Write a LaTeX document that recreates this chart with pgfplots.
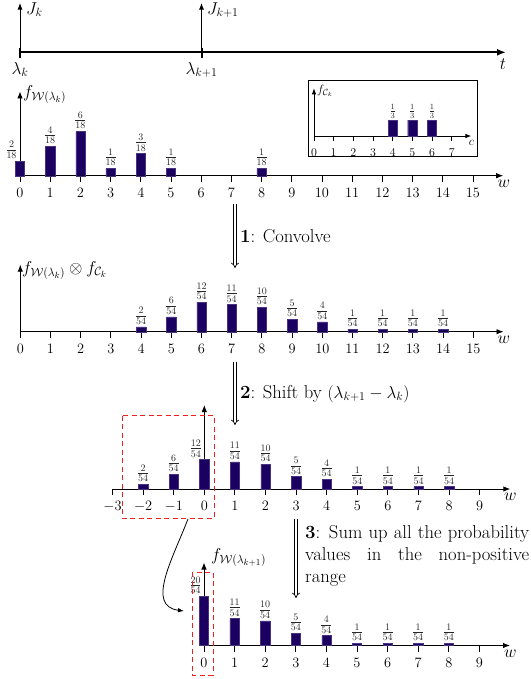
\documentclass[border=0pt]{standalone}
\usepackage{pgfplots}
\pgfplotsset{compat=1.18}
\usetikzlibrary{arrows.meta}

\definecolor{barcol}{RGB}{27,0,98}
\definecolor{boxred}{RGB}{238,32,32}

\newcommand\mainsize{\fontsize{18.7}{22.5}\selectfont}
\newcommand\ticksize{\fontsize{14.3}{16}\selectfont}
\newcommand\fracsize{\fontsize{14.5}{16}\selectfont}
\newcommand\insettick{\fontsize{11.5}{13}\selectfont}
\newcommand\insetfrac{\fontsize{12}{13}\selectfont}
\newcommand\insetlabel{\fontsize{13}{14}\selectfont}

\tikzset{
  yaxisline/.style={line width=0.9bp, -{Latex[length=7bp,width=5.5bp]}},
  stagearrow/.style={line width=0.7bp, double, double distance=2bp, -{Implies}},
}

\pgfplotsset{
  pmf/.style={
    anchor=origin,
    axis x line*=bottom,
    axis y line=none,
    x axis line style={line width=0.9bp, -{Latex[length=7bp,width=5.5bp]}},
    tick align=outside,
    major tick length=6bp,
    xtick style={line width=0.9bp, black},
    ymin=0, ytick=\empty,
    clip=false,
    xticklabel style={font=\ticksize, yshift=-3bp},
    every node near coord/.append style={font=\fracsize, anchor=south, inner sep=2.2bp, text=black!85},
  },
  bars/.style={ybar, bar width=9.3bp, bar shift=0pt,
    fill=barcol, draw=barcol!80!white, line width=0.4bp},
  leftlabel/.style={bars, every node near coord/.append style={xshift=-8.5bp}},
}

\begin{document}
\begin{tikzpicture}

% distribution of W at lambda_k (out of 18)
\begin{axis}[pmf, at={(20bp,-175.7bp)}, x=30.2bp, y=7.39bp,
  xmin=0, xmax=16, ymax=11.4, xtick={0,...,15},
  nodes near coords={$\frac{\pgfmathprintnumber{\pgfplotspointmeta}}{18}$}]
  \draw[yaxisline] (axis cs:0,0) -- (axis cs:0,11.4);
  \addplot[leftlabel] coordinates {(0,2)};
  \addplot[bars] coordinates {(1,4) (2,6) (3,1) (4,3) (5,1) (8,1)};
\end{axis}

% distribution of C_k (out of 3)
\begin{axis}[pmf, at={(314bp,-136bp)}, x=19.67bp, y=16bp,
  xmin=0, xmax=8, ymax=2.98, xtick={0,...,7},
  major tick length=5bp,
  xticklabel style={font=\insettick, yshift=-1bp},
  x axis line style={line width=0.8bp, -{Latex[length=6bp,width=4.5bp]}},
  every node near coord/.append style={font=\insetfrac, inner sep=1.5bp},
  nodes near coords={$\frac{\pgfmathprintnumber{\pgfplotspointmeta}}{3}$}]
  \draw[line width=0.8bp, -{Latex[length=6bp,width=4.5bp]}] (axis cs:0,0) -- (axis cs:0,2.98);
  \addplot[bars] coordinates {(4,1) (5,1) (6,1)};
\end{axis}

% convolution (out of 54)
\begin{axis}[pmf, at={(20.3bp,-331.7bp)}, x=30.2bp, y=2.463bp,
  xmin=0, xmax=16, ymax=27.2, xtick={0,...,15},
  nodes near coords={$\frac{\pgfmathprintnumber{\pgfplotspointmeta}}{54}$}]
  \draw[yaxisline] (axis cs:0,0) -- (axis cs:0,27.2);
  \addplot[bars] coordinates {(4,2) (5,6) (6,12) (7,11) (8,10) (9,5) (10,4)
                        (11,1) (12,1) (13,1) (14,1)};
\end{axis}

% shifted by (lambda_{k+1} - lambda_k)
\begin{axis}[pmf, at={(204.3bp,-489bp)}, x=30.6bp, y=2.463bp,
  xmin=-3, xmax=10, ymax=34.1, xtick={-3,...,9},
  nodes near coords={$\frac{\pgfmathprintnumber{\pgfplotspointmeta}}{54}$}]
  \draw[yaxisline] (axis cs:0,0) -- (axis cs:0,34.1);
  \addplot[bars] coordinates {(-2,2) (-1,6)};
  \addplot[leftlabel] coordinates {(0,12)};
  \addplot[bars] coordinates {(1,11) (2,10) (3,5) (4,4) (5,1) (6,1) (7,1) (8,1)};
\end{axis}

% distribution of W at lambda_{k+1}
\begin{axis}[pmf, at={(204bp,-645.5bp)}, x=30.6bp, y=2.463bp,
  xmin=0, xmax=10, ymax=33.7, xtick={0,...,9},
  nodes near coords={$\frac{\pgfmathprintnumber{\pgfplotspointmeta}}{54}$}]
  \draw[yaxisline] (axis cs:0,0) -- (axis cs:0,33.7);
  \addplot[leftlabel] coordinates {(0,20)};
  \addplot[bars] coordinates {(1,11) (2,10) (3,5) (4,4) (5,1) (6,1) (7,1) (8,1)};
\end{axis}

\begin{scope}[x=1bp,y=-1bp]
  % time line
  \draw[line width=1.8bp,-{Latex[length=9bp,width=7bp]}] (20,52.3) -- (506,52.3);
  \draw[line width=2bp] (20,47.5) -- (20,58);
  \draw[line width=2bp] (201.5,47.5) -- (201.5,58);
  \draw[line width=0.9bp,-{Latex[length=6.5bp,width=5bp]}] (20,52) -- (20,3);
  \draw[line width=0.9bp,-{Latex[length=6.5bp,width=5bp]}] (201.5,52) -- (201.5,3);
  \node[anchor=base west, font=\mainsize, inner sep=0] at (26,14) {$J_k$};
  \node[anchor=base west, font=\mainsize, inner sep=0] at (207,14) {$J_{k+1}$};
  \node[anchor=base, font=\mainsize, inner sep=0] at (20,74) {$\lambda_k$};
  \node[anchor=base, font=\mainsize, inner sep=0] at (201.5,74) {$\lambda_{k+1}$};
  \node[anchor=base, font=\mainsize, inner sep=0] at (503,69) {$t$};

  % axis labels
  \node[anchor=base west, font=\mainsize, inner sep=0] at (23,97) {$f_{\mathcal{W}(\lambda_k)}$};
  \node[anchor=base west, font=\mainsize, inner sep=0] at (22,273) {$f_{\mathcal{W}(\lambda_k)}\otimes f_{\mathcal{C}_k}$};
  \node[anchor=base west, font=\mainsize, inner sep=0] at (211,560) {$f_{\mathcal{W}(\lambda_{k+1})}$};
  \node[anchor=base west, font=\insetlabel, inner sep=0] at (317,93) {$f_{\mathcal{C}_k}$};
  \node[anchor=base, font=\insetlabel, inner sep=0] at (471.5,145.5) {$c$};
  \node[anchor=base, font=\mainsize, inner sep=0] at (504,187.5) {$w$};
  \node[anchor=base, font=\mainsize, inner sep=0] at (504,343.5) {$w$};
  \node[anchor=base, font=\mainsize, inner sep=0] at (510.5,500.5) {$w$};
  \node[anchor=base, font=\mainsize, inner sep=0] at (510.5,657) {$w$};

  % inset frame
  \draw[line width=0.8bp] (308.5,80) rectangle (477.5,156);

  % stages
  \draw[stagearrow] (235,204) -- (235,268);
  \node[anchor=base west, font=\mainsize, inner sep=0] at (240,242) {\textbf{1}: Convolve};
  \draw[stagearrow] (235,362) -- (235,425);
  \node[anchor=base west, font=\mainsize, inner sep=0] at (240,398) {\textbf{2}: Shift by $(\lambda_{k+1}-\lambda_k)$};
  \draw[stagearrow] (296,519) -- (296,598);
  \node[anchor=base west, font=\mainsize, inner sep=0] at (305,538)
    {\parbox[t]{224bp}{\hyphenpenalty=10000\exhyphenpenalty=10000
      \textbf{3}: Sum up all the probability values in the non-positive range}};

  % non-positive range and where it goes
  \draw[boxred, line width=1bp, dash pattern=on 5bp off 3.5bp] (122,415.5) rectangle (214,518);
  \draw[boxred, line width=1bp, dash pattern=on 5bp off 3.5bp] (192,572) rectangle (213,675);
  \draw[line width=0.8bp, -{Latex[length=6bp,width=4.5bp]}] (188,519) .. controls (172,560) and (146,606) .. (184,611);
\end{scope}

\pgfresetboundingbox
\path (0bp,0bp) rectangle (531bp,-679bp);
\end{tikzpicture}
\end{document}
